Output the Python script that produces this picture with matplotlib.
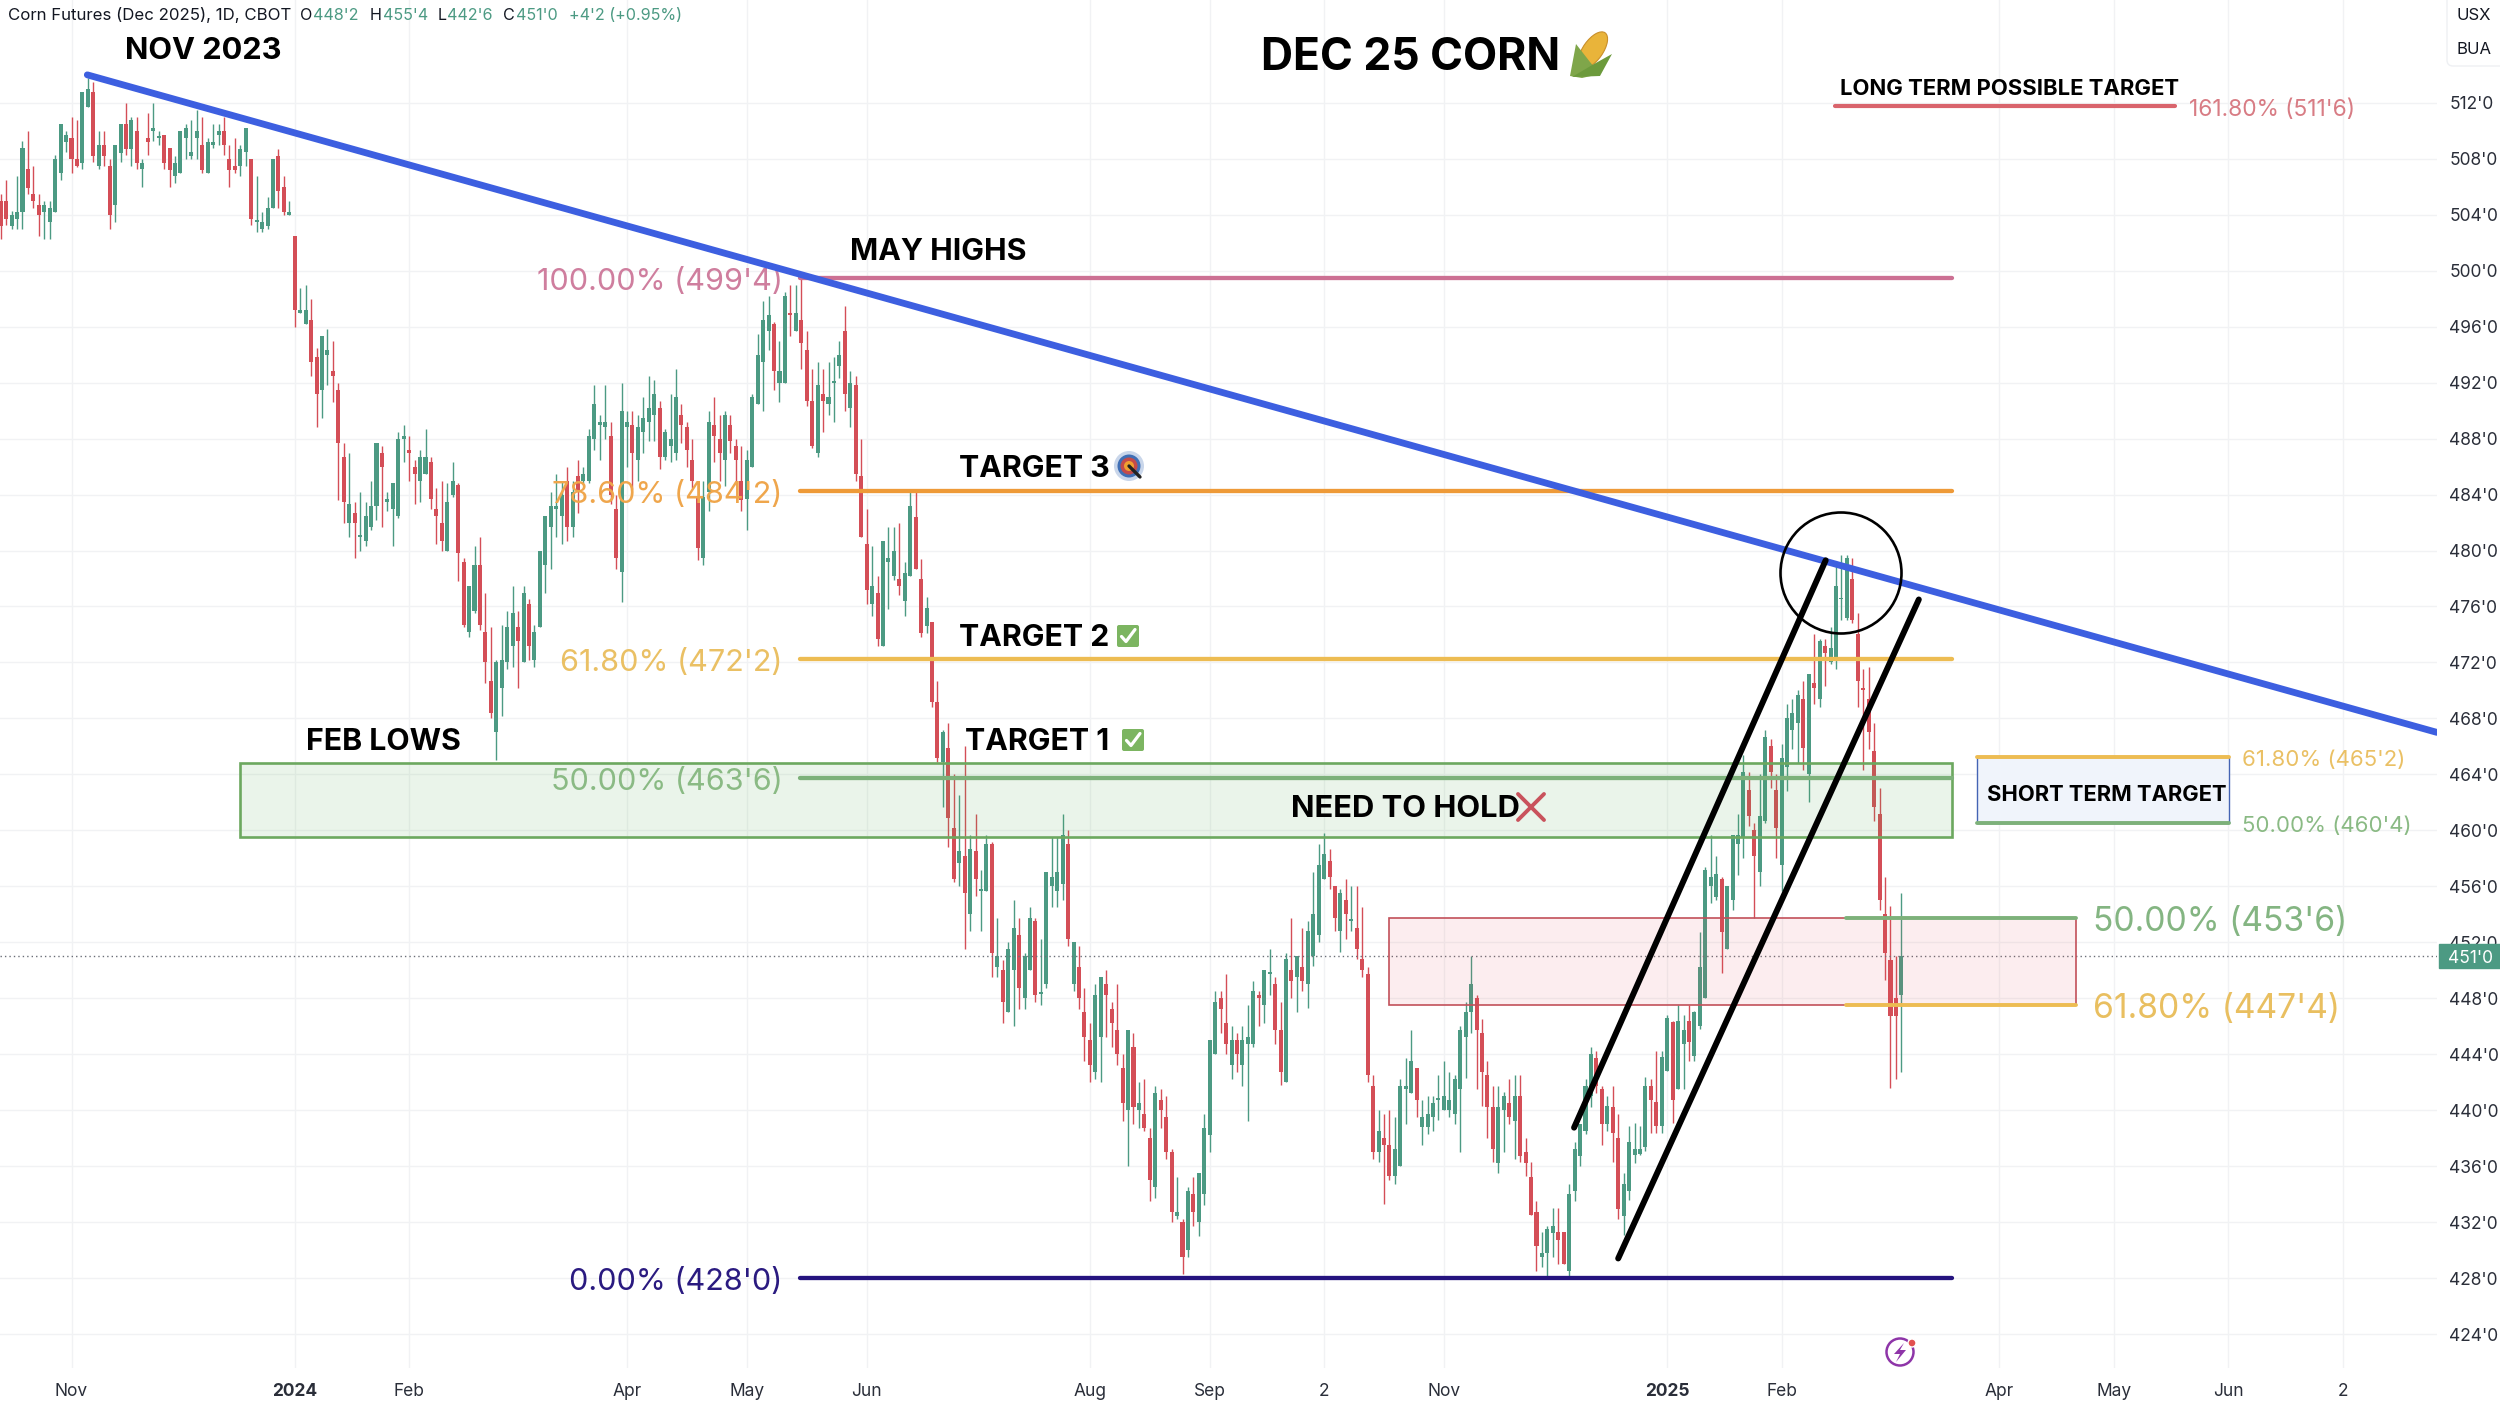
import numpy as np
import matplotlib
matplotlib.use("Agg")
import matplotlib.pyplot as plt
from matplotlib.patches import Rectangle, Circle, Ellipse, Polygon, FancyBboxPatch
from matplotlib.transforms import blended_transform_factory

plt.rcParams['font.family'] = ['Inter', 'DejaVu Sans']

direction = ("RRGGGRRRGG" "GGGRRGGRGR" "RGGRGRGRGG" "RRGGGGGRGG" "GRRRGGRGGG"
             "GRRGRGGRRG" "GRRRGRGGGG" "RGGGGRRGGR" "RRGGRRGGRR" "RGGGGRGRGG"
             "GGGGRGRGGG" "GGRRGGRGGG" "GRGGGRRRRG" "GRRGRRRGGG" "GGRGGRGRRR"
             "GRGGGRGRRR" "GRGGGRGGRR" "GRRGRRGRGR" "GGRGRGGRGG" "RGGGGGRGRR"
             "RGGRRRRGRG" "RRGRRRGRGR" "GGGGRRGRGG" "GRGGRRGRGR" "GGGGRRGRGR"
             "RRRGRRGGGG" "RGGGGGGGGG" "GRRRRGGRGR" "RRRGGGRRGG" "GGGRRGRRGG"
             "GGGRRGGRGG" "RGGGGGRGGG" "GRRGGRRGGG" "GRGRGRGGGG" "RRRRRRRRRG")

highs = [
505.5,506.5,504.3,506.8,509.3,510,507.5,505.5,505,505,
508.3,510.5,510,511,510.8,512.8,513.8,513.5,510,510,
508,509,510.5,512,511,511,508,511.3,512,510,
509.7,508.8,508.2,510,510.5,510.8,511.5,511,509.5,510.5,
510.5,511,509,509.5,509,510.2,508,506.8,504.2,505.3,
508,508.7,506.8,505,502.5,498.8,499,498,494.5,495.3,
495.8,495,492,487.7,487,483.5,484.2,483.5,485,487.7,
487.5,484.2,484.8,488.5,489,488.2,486.5,487.2,488.7,486.7,
484.5,485,484.8,486.3,484.8,479.5,477.5,480.3,481,477,
474.5,472.2,474.7,475.7,477.5,475.7,477.5,476.5,474.7,480,
482.5,484.2,485.5,485,486,485,486.5,486,488.7,491.8,
489.7,491.8,489.2,484,492,490,490,489.7,491,492.5,
492.2,490.7,488.7,491.2,493,490.5,489.2,488,485,485,
490,491,489.7,490,489.7,488,487.5,487.2,491.2,495.5,
497.8,498.2,496.3,495,498.5,499,499,499.5,495.7,493,
493.5,493,493.5,493.8,495,497.5,492.8,492.5,488,483,
480.3,478.2,480.7,481.7,481.7,482,479.2,484.4,484.4,479.4,
476.7,474.9,470.7,467.2,467.7,464,462.5,466,459.7,461.2,
457.2,459.7,459.2,453.7,450.7,452,455,453.7,451.2,454.5,
453.7,452.2,457,459.5,459.5,461.2,460,452,451.7,448.7,
446.2,449,449.5,450,447.7,449,444,445.7,445.5,442,
442.2,438.7,441.7,441.5,441,437.2,435.2,432.2,434.5,435.2,
435.5,439.7,445,448.5,448.5,449.7,446,445.5,446,447.5,
449.2,448.5,450,451.5,449.5,447.7,451.2,453.7,451,453,
453.5,457,459,459.8,458.7,456,455.8,456.5,456,456,
454.5,450.2,442.5,440,439.7,440,439.5,442.2,443.7,445.7,
443,440.7,441,441,442.5,443.5,442.7,442.5,446,447.7,
451,448.2,446.5,443.5,441.7,441.7,441.3,442.2,442.5,442.5,
438,436.3,433.5,431.3,431.7,433,433,431.3,434.7,437.7,
439,442.2,444.5,444.2,441.7,441,441.7,439.7,435.5,438.9,
439.1,438.9,442.4,442.2,444.2,444.2,446.8,446.4,447.5,446.8,
447.5,447.1,452.7,457.4,459.7,458.2,456.7,456,459.7,461.2,
465.4,464.2,460.5,464,467.2,466.5,464,466.2,469,469.4,
470,470.7,471.2,474,473.7,473.7,474.5,479,479.7,479.7,
479.5,475.5,471.5,471.7,467.7,463,456.7,454.6,451,455.5]

body_tops = [
505,505,504,504.2,508.8,507.3,505.5,504.7,504.7,504.5,
508,510.5,509.7,509.5,508,512.8,513,512.8,509,509,
507.5,509,510.5,510.5,510.8,510,507.7,509.5,510.2,509.6,
509.7,508.8,507.7,510,510.2,508.5,510,509,509.2,509.2,
510,510,508,507.5,508.7,510.2,508,503.5,503.5,504.5,
508,508.2,506,504.2,502.5,497.2,497.2,496.5,493.8,495.3,
494.3,492.8,491.5,486.7,483.3,482.7,481,482.5,483.2,487.7,
487,483.7,484.8,488,488.2,487.2,486,486.7,486.7,486.3,
483,482,483.5,485,484.7,479.2,477.5,479,479,474.2,
470.7,472,472.2,474.5,475.5,474.5,477,476.2,474.2,480,
482.5,483.2,483.2,484,485,484.2,485.3,485.5,488.2,490.5,
489.2,489.2,488.2,483,490,489.2,489,488.8,489.5,490.2,
491.2,490.2,488.5,488,491,489.7,488.8,486.5,483.9,483.8,
489.2,489,488,489.7,489,487.5,485,486.5,491,494,
496.5,496.8,496.2,492.8,498.2,497,497,496.5,494.3,490.7,
491.8,491.2,491,492,494,495.7,492,491.8,485.3,480.5,
477.5,477,480.7,479.5,480,478,478.4,483.2,482.4,478,
475.9,474.9,469.2,467,465.9,460.2,458.5,458.2,458.7,458.5,
455.8,459,459,451,450,451.5,453,452.5,451,453.7,
453.5,448.4,457,456.7,457,459.7,459,452,450.2,447,
445,448.2,449.5,449,447.2,445.7,443,445.7,444.5,440.5,
439.7,438,441.2,440.7,439.5,437,432.7,432,434.2,434,
435.5,438.7,445,447.7,448,446.2,445,445,445,445.2,
448.5,448.2,450,449.8,449,445.7,450.8,450,451,450.2,
452.8,454,457.5,458.3,457.8,456,455.5,455,453.5,453,
450.8,449.7,441.7,438.5,438,437.5,437.2,441.7,441.7,443.5,
443,439.5,439.7,440.5,440.8,441,440.7,442.2,445.7,447,
449,448,445.5,442.5,440.2,440.2,441,440.5,441,441,
437,435.2,432.7,429.8,431.5,431.7,431.3,431.3,434,437.2,
439,441.7,444,443.7,441.5,440.3,440.2,438,434.7,437.7,
437.2,437.2,441.7,441.7,440.6,443.8,446.6,446.3,446.4,445.7,
446.4,447,450.2,457.2,456.7,456.9,456.5,456,459.7,459.7,
464.2,462.9,460,461,466.7,466,462.9,465.2,468,468.4,
469.7,469.4,471.2,470.5,473.5,473.2,473,477.5,476.5,479.5,
478,474,470.2,469.4,465.7,461.2,454,450.7,448,451]

body_bottoms = [
503.2,503.7,503.2,503.7,504.2,505.9,505,504,504.2,503.5,
504.2,507,509.2,508,507.5,507.7,511.7,508.2,507.5,508.2,
504,504.7,508.4,508.7,508.7,507.7,507.3,509.2,510,509.5,
507.7,507.2,506.8,507,509.5,508.2,509.5,507.2,507,509,
509.7,509,507.2,507.2,507.5,508.5,503.7,503.5,503,503.2,
504.5,505.7,504.2,504,497.2,497,496.2,493.5,491.2,491.5,
494,492.5,487.7,483.5,482,482,481,480.7,481.7,483.2,
486,483.5,483,482.5,488,487,485.5,485,485.5,483.7,
482.5,480.7,480,484,479.8,474.7,474.2,475.7,474.7,472,
468.4,467,470.2,472,473.2,473.5,472,473.2,472.2,474.5,
479,481.7,483,482.5,481.7,481.7,484.2,485,485,488,
489,488.8,484,479.5,478.5,488.8,487,486.5,488.5,489.2,
489.7,486.7,486.7,487.5,487,489,487.2,485,480.2,479.5,
484.2,488.2,487,486.5,487.8,486.5,483.6,483.7,486,490.5,
493.5,495.7,492.8,492,492,496.8,495.7,494.8,490.7,487.5,
487,490.7,490.5,492,493.2,491.2,490.2,485.5,481,477.2,
476.2,473.7,473.2,479.2,478.2,477.5,476.4,478.2,478.7,474.1,
474.6,469.2,465.2,464.9,460.9,456.5,457.7,455.5,454,456.5,
455.7,455.7,451.2,450.2,447.7,447,450,448.7,448,450,
448.2,448.3,449,456,455.7,456.2,452.2,449,448,445.2,
443.2,442.7,445.2,448.2,446.2,444,440.5,440,440.2,440,
438.7,435,434.5,440,437,432.7,432.4,429.5,430,432.7,
432,434,438.2,444,447.2,444.7,443.2,444,443.2,444.7,
444.7,448,447.5,449.7,445.7,442.7,442,449.2,449.5,449.2,
449,451,452.5,456.5,456.7,453.7,452.8,454,453.5,451.5,
450,442.5,437,437,437.5,435.3,435.3,436,441.5,441.2,
440.7,438.8,438.8,439.5,440.7,440,440,439.7,441.5,445.2,
447,445.7,442.7,440.2,437.2,436.2,440,439.5,439.2,436.7,
436.2,432.5,430.3,429.5,429.8,431.2,430.7,429,428.5,434.2,
436.7,438.5,441,441.7,439,439,438.4,432.9,432.4,434.2,
436.8,436.9,437.4,440.7,438.9,438.9,442.8,440.7,441.5,444.7,
444.9,443.9,446,448,456,455.2,452.7,451.5,455,459,
459.5,461,458.2,457,460.7,464.2,460.2,457.5,464.5,467.2,
467.7,465.9,464,470.2,469.4,472.7,472,472.4,476.5,475.2,
475,470.7,470,467,461.7,455,451.2,446.7,446.75,448.25]

lows = [
502.3,503.3,503,503,503,505.5,504.5,502.5,502.3,502.3,
504.2,506.5,508.5,507,507.4,507.3,511.7,507.8,507.3,507.5,
503,503.5,507.8,508.3,507.5,507.3,506,508.3,509.3,509,
507.3,506,506.3,507,508,508,508,507,507,508.8,
509,508.3,506,507,506.8,507.5,503.3,502.8,502.8,503,
504.5,504.5,504,504,496,497,496.2,492.5,488.8,489.5,
491.8,490.6,483.6,482,481,479.5,480,480.3,481.5,482.2,
481.7,482.8,480.3,482.3,486.3,485,483.3,483.5,485.5,483,
480.5,480,480,483.8,477.8,474.5,473.8,475.5,474.3,470.5,
468,465,468.2,471.5,471.7,470.2,472,472.2,471.7,474.5,
477,478.7,481,480.5,480.7,481,482.7,484.8,484.8,487.2,
486.5,488,483.3,478.7,476.3,486,484.4,485,487,487.8,
487.8,485.8,486.5,486.3,486.5,487.7,486,484.5,479.3,479,
482.8,486.3,485,484.6,487,484.7,482.8,481.5,486,490.5,
490,494.3,491.5,490.6,492,495.3,495.7,493,490.3,487.3,
486.7,488.5,489.7,489.2,492.3,490,488.8,485,481,476.2,
475.3,473.2,473.2,475.8,477.9,476.8,475.3,478.2,478.7,473.8,
474.1,468.8,464.9,461.7,458.8,456.3,456,451.5,452.8,455.3,
452.8,455.7,449.5,449.5,446.2,447,446,447.2,447.2,450,
447.7,447.5,448.7,454.5,454.5,455,451.7,448.5,447.2,443.5,
442,442.2,442,445.2,444.5,443.2,439.2,436,439,438.7,
438.5,433.5,433.7,438.7,436.5,432,432.2,428.3,429.5,431.7,
431,433.2,437,444,445.5,444,442.2,442.7,441.7,439.2,
444.5,446,446.2,448.2,444.7,441.8,442,448,447,448.5,
447.3,450.3,452,456.5,455.8,452.8,451.3,452.2,452.8,450.8,
449.5,442,436.5,436.3,433.3,435,434.7,436,439,441.2,
439.5,437.5,438.3,438.5,439.3,440,439.5,439,437,442.3,
445.5,441.5,440.3,438,436.3,435.5,437,439,436.5,436.3,
435.3,432.5,428.5,428.8,428,429.5,429,429,428,433.5,
436,438.3,440.2,441.2,437.5,438.5,436.3,432.2,431.1,433.6,
436.2,436.8,437.1,438.4,438.4,438.4,442.8,439.1,441.5,441.5,
443.5,443.5,445.8,448,454.8,455,449.8,451.5,454.3,456.8,
458,460.3,453.7,456,460.5,463,458,455.7,462.8,465.8,
464.8,464.3,462,469,468.8,470.3,471.9,471.5,475,475,
474.8,468.8,464.3,465.8,460.7,454.3,449.3,441.6,442.2,442.75]

assert len(direction) == len(highs) == len(body_tops) == len(body_bottoms) == len(lows) == 350

# Fibonacci levels: (price, label, colour)
fib_levels = [499.5, 484.25, 472.25, 463.75, 428.0]
fib_labels = ["100.00% (499'4)", "78.60% (484'2)", "61.80% (472'2)", "50.00% (463'6)", "0.00% (428'0)"]
fib_colors = ["#CC7093", "#EE9A38", "#EDBC52", "#7DB17A", "#25137F"]
label_colors = ["#CF7E9E", "#EFA64C", "#EAC064", "#8ABA84", "#2A1A80"]

y_ticks = list(range(424, 513, 4))
x_tick_bars = [13, 54, 75, 115, 137, 159, 200, 222, 243, 265, 306, 327, 367, 388, 409, 430]
x_tick_text = ["Nov", "2024", "Feb", "Apr", "May", "Jun", "Aug", "Sep", "2", "Nov", "2025", "Feb", "Apr", "May", "Jun", "2"]

GREEN, RED = "#4C9A83", "#D44E57"
W, H = 2500, 1408
fig = plt.figure(figsize=(25, 14.08), dpi=100, facecolor="white")
ax = fig.add_axes([0, 40 / H, 2437 / W, 1368 / H])
ax.set_xlim(-0.13, 447.35)
ax.set_ylim(421.57, 519.35)
ax.set_axisbelow(True)
ax.grid(True, color="#F1F2F4", lw=1.0)
for s in ax.spines.values():
    s.set_visible(False)

idx = np.arange(len(highs))
colors = [GREEN if d == "G" else RED for d in direction]
tops, bots = np.array(body_tops), np.array(body_bottoms)
ax.vlines(idx, lows, highs, colors=colors, lw=1.0, zorder=2)
ax.bar(idx, np.maximum(tops - bots, 0.14), bottom=bots, width=0.74, color=colors, lw=0, zorder=2.2)

ax.set_yticks(y_ticks)
ax.set_yticklabels([f"{v}'0" for v in y_ticks], fontsize=12.5, color="#2A2E39")
ax.yaxis.tick_right()
ax.set_xticks(x_tick_bars)
ax.set_xticklabels(x_tick_text, fontsize=12.5, color="#2A2E39")
ax.tick_params(axis="both", length=0)
ax.tick_params(axis="y", pad=9)
ax.tick_params(axis="x", pad=11)
for t in ax.get_yticklabels():
    t.set_verticalalignment("center_baseline")
for t in ax.get_xticklabels():
    if t.get_text().startswith("202"):
        t.set_fontweight("bold")

# last price line and tag
last = bots[-1] if direction[-1] == "R" else tops[-1]
ax.axhline(last, color="#6B6F78", lw=1.0, ls=(0, (1, 2.2)), zorder=2.5)
tr = blended_transform_factory(ax.transAxes, ax.transData)
ax.add_patch(Rectangle((1.001, last - 0.86), 0.03, 1.72, transform=tr, color=GREEN, clip_on=False, zorder=9))
ax.text(1.0045, last, "451'0", transform=tr, color="white", fontsize=12.5, va="center_baseline", ha="left", zorder=10, clip_on=False)

# zones
ax.add_patch(Rectangle((43.9, 459.5), 314.4, 5.3, facecolor="#4CA64C", alpha=0.115, lw=0, zorder=3))
ax.add_patch(Rectangle((43.9, 459.5), 314.4, 5.3, fill=False, edgecolor="#6CA85F", lw=1.9, zorder=3.1))
ax.add_patch(Rectangle((254.9, 447.5), 126.2, 6.25, facecolor="#E04A55", alpha=0.095, lw=0, zorder=3))
ax.add_patch(Rectangle((254.9, 447.5), 126.2, 6.25, fill=False, edgecolor="#C2505A", lw=1.2, zorder=3.1))
ax.add_patch(Rectangle((362.9, 460.5), 46.3, 4.75, facecolor="#F0F4FB", edgecolor="#4464B4", lw=1.0, zorder=3))

# fib lines + labels
for lv, lb, c, lc in zip(fib_levels, fib_labels, fib_colors, label_colors):
    ax.plot([146.8, 358.3], [lv, lv], color=c, lw=3.1, solid_capstyle="round", zorder=4)
    ax.text(143.6, lv - 0.3, lb, color=lc, fontsize=22, ha="right", va="center", zorder=5)

ax.plot([338.8, 381.1], [453.75, 453.75], color="#7DB17A", lw=2.8, solid_capstyle="round", zorder=4)
ax.plot([338.8, 381.1], [447.5, 447.5], color="#EDBC52", lw=2.8, solid_capstyle="round", zorder=4)
ax.text(384.2, 453.45, "50.00% (453'6)", color="#84B582", fontsize=24.2, ha="left", va="center", zorder=5)
ax.text(384.2, 447.25, "61.80% (447'4)", color="#E9BF60", fontsize=24.2, ha="left", va="center", zorder=5)
ax.plot([362.9, 409.2], [465.25, 465.25], color="#EDBC52", lw=2.8, solid_capstyle="round", zorder=4)
ax.plot([362.9, 409.2], [460.5, 460.5], color="#7DB17A", lw=2.8, solid_capstyle="round", zorder=4)
ax.text(411.6, 465.05, "61.80% (465'2)", color="#EAC064", fontsize=16, ha="left", va="center", zorder=5)
ax.text(411.6, 460.3, "50.00% (460'4)", color="#8ABA84", fontsize=16, ha="left", va="center", zorder=5)
ax.plot([336.8, 399.3], [511.75, 511.75], color="#D9646C", lw=3.0, solid_capstyle="round", zorder=4)
ax.text(401.8, 511.5, "161.80% (511'6)", color="#D87C84", fontsize=16.4, ha="left", va="center", zorder=5)

# trend line and channel
ax.plot([15.9, 447.35], [514, 467], color="#3D5FE0", lw=4.9, solid_capstyle="round", zorder=6)
ax.plot([288.9, 335.1], [438.75, 479.3], color="black", lw=4.3, solid_capstyle="round", zorder=6)
ax.plot([297, 352.2], [429.4, 476.5], color="black", lw=4.3, solid_capstyle="round", zorder=6)

# overlay for notes, in image pixels
deco = fig.add_axes([0, 0, 1, 1], facecolor="none")
deco.set_xlim(0, W)
deco.set_ylim(H, 0)
deco.axis("off")


def note(x, y, s, size, ha="left", weight="bold", color="black"):
    deco.text(x, y, s, fontsize=size, fontweight=weight, color=color, ha=ha, va="center")


note(125, 51, "NOV 2023", 22.2)
note(850, 252, "MAY HIGHS", 21.8)
note(959, 469, "TARGET 3", 21.8)
note(959, 638, "TARGET 2", 21.8)
note(965, 742, "TARGET 1", 21.8)
note(306, 742, "FEB LOWS", 21.8)
note(1291, 809, "NEED TO HOLD", 22.3)
note(1261, 58, "DEC 25 CORN", 32)
note(1840, 89, "LONG TERM POSSIBLE TARGET", 15.9)
note(1987, 795, "SHORT TERM TARGET", 15.8)

# header
note(8, 15, "Corn Futures (Dec 2025), 1D, CBOT", 12.1, weight="normal", color="#131722")
for x, s, c in [(300, "O", "#131722"), (312.5, "448'2", GREEN), (370, "H", "#131722"), (383, "455'4", GREEN),
                (437.5, "L", "#131722"), (447, "442'6", GREEN), (503.5, "C", "#131722"), (515.6, "451'0", GREEN),
                (569, "+4'2 (+0.95%)", GREEN)]:
    note(x, 15, s, 11.6, weight="normal", color=c)

# unit box
deco.add_patch(FancyBboxPatch((2447, -20), 70, 86, boxstyle="round,pad=0,rounding_size=6", fc="white", ec="#EEF0F3", lw=1))
note(2456, 16, "USX", 12, weight="normal", color="#131722")
note(2456, 50, "BUA", 12, weight="normal", color="#131722")

# circle around the top
deco.add_patch(Circle((1841, 573), 60.5, fill=False, ec="black", lw=1.9, zorder=7))


def check(cx, cy):
    deco.add_patch(FancyBboxPatch((cx - 11, cy - 11), 22, 22, boxstyle="round,pad=0,rounding_size=2", fc="#7CB561", ec="none"))
    deco.plot([cx - 6.5, cx - 2, cx + 7], [cy + 0.5, cy + 5.5, cy - 6.5], color="white", lw=2.3, solid_capstyle="round")


check(1128, 636)
check(1133, 740)

# target icon
for r, c in [(15, "#C9D6EA"), (11.5, "#3F6FB5"), (8.5, "#C44A4A"), (5, "#F0A030")]:
    deco.add_patch(Circle((1129, 466), r, fc=c, ec="none"))
deco.plot([1129, 1140], [466, 477], color="#222222", lw=2.4, solid_capstyle="round")

# red cross
deco.plot([1518, 1544], [820, 794], color="#C9525C", lw=2.8, solid_capstyle="round")
deco.plot([1518, 1544], [794, 820], color="#C9525C", lw=2.8, solid_capstyle="round")

# corn icon
deco.add_patch(Ellipse((1593, 50), 20, 42, angle=35, fc="#E9B43A", ec="#C98F2A", lw=0.8))
deco.add_patch(Polygon([(1570, 76), (1576, 44), (1590, 62), (1600, 74), (1582, 78)], fc="#7FA64A", ec="none"))
deco.add_patch(Polygon([(1572, 77), (1600, 76), (1612, 54), (1594, 64)], fc="#6C9A3C", ec="none"))

# bolt icon
deco.add_patch(Circle((1900, 1352), 13.5, fill=False, ec="#8E35A8", lw=1.8))
deco.add_patch(Polygon([(1904, 1343), (1894, 1354), (1900, 1354), (1896, 1362), (1906, 1350), (1900, 1350)], fc="#8E35A8", ec="none"))
deco.add_patch(Circle((1912, 1343), 4, fc="#E25050", ec="white", lw=1))

fig.savefig("out.png", dpi=100, facecolor="white")
